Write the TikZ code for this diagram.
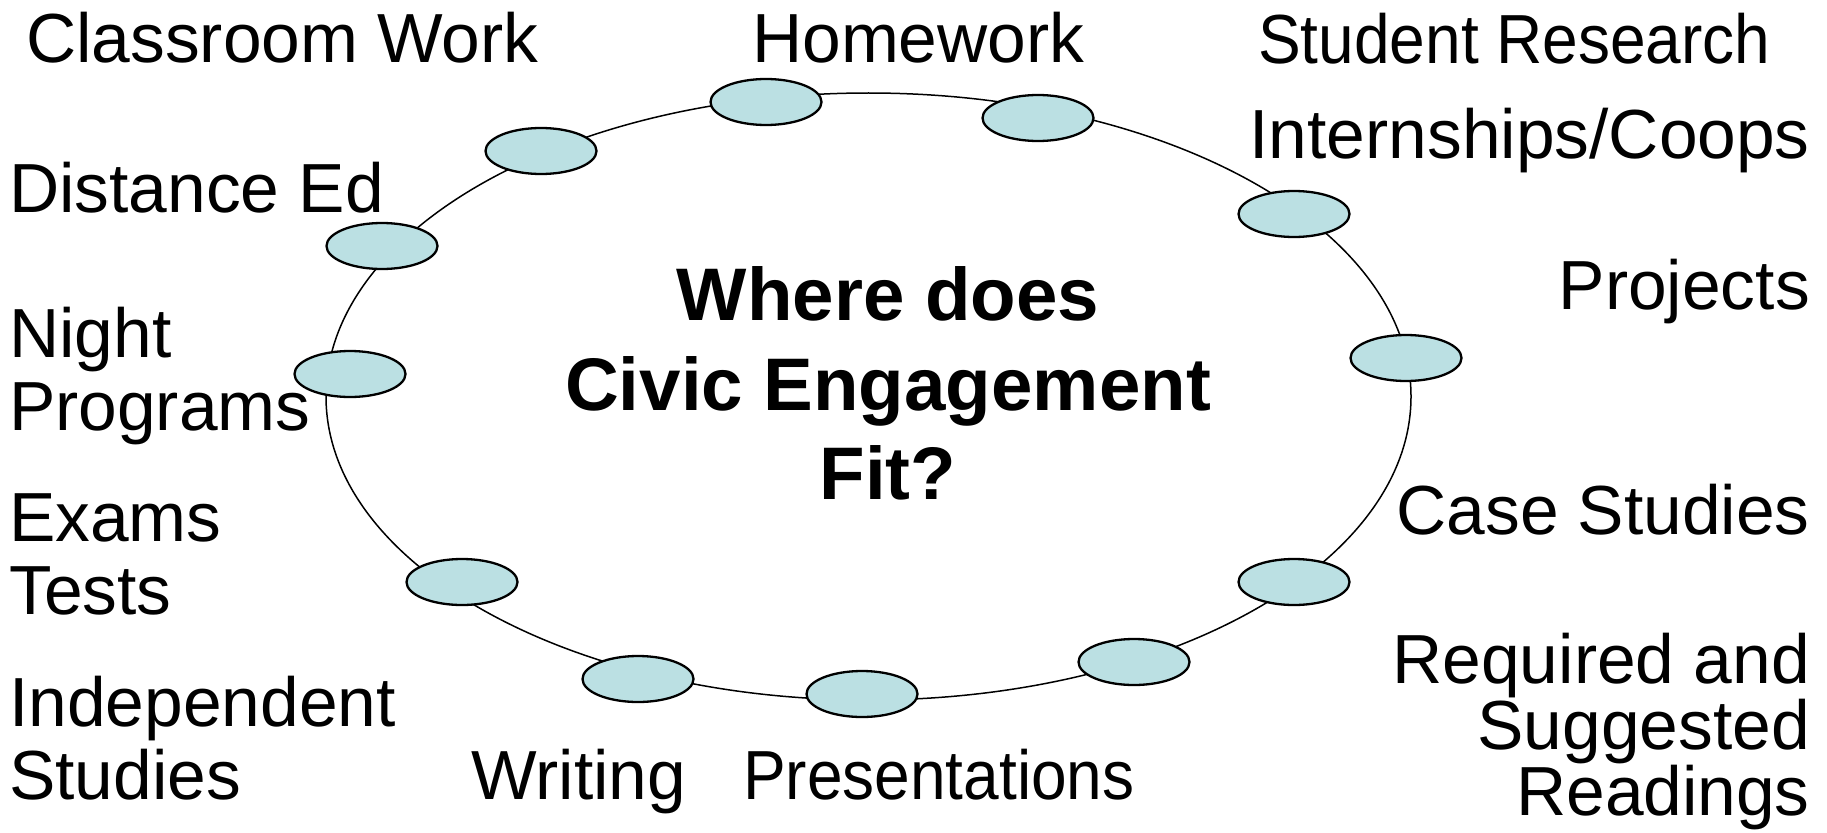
\documentclass[tikz,border=0pt]{standalone}
\usepackage{fontspec}
\setmainfont{Liberation Sans}
\newfontfamily\narrowsans[FakeStretch=0.921]{Liberation Sans}
\usetikzlibrary{shapes.geometric}
\definecolor{dotfill}{RGB}{187,224,227}
\tikzset{
  ring/.style={draw=black, line width=1.5pt, ellipse, inner sep=0pt, minimum width=1085pt, minimum height=607pt},
  dot/.style={draw=black, line width=2.3pt, fill=dotfill, ellipse, inner sep=0pt, minimum width=111pt, minimum height=46pt},
  lbl/.style={inner sep=0pt, font=\fontsize{69.5}{69.5}\selectfont},
  lblnarrow/.style={inner sep=0pt, font=\fontsize{69.5}{69.5}\narrowsans},
  lw/.style={lbl, anchor=base west},
  le/.style={lbl, anchor=base east},
  lwn/.style={lblnarrow, anchor=base west},
  title/.style={inner sep=0pt, anchor=base, font=\fontsize{74.5}{74.5}\selectfont\bfseries}
}
\begin{document}
\begin{tikzpicture}[x=1pt,y=-1pt]
\useasboundingbox (0,0) rectangle (1827,832);
\fill[white] (0,0) rectangle (1827,832);
\node[ring] (ring) at (868.5,396.5) {};
% small ellipses on the ring
\node[dot] (d1) at (766,102) {};
\node[dot] (d2) at (1038,118) {};
\node[dot] (d3) at (541,151) {};
\node[dot] (d4) at (1294,214) {};
\node[dot] (d5) at (382,246) {};
\node[dot] (d6) at (350,374) {};
\node[dot] (d7) at (1406,358) {};
\node[dot] (d8) at (462,582) {};
\node[dot] (d9) at (1294,582) {};
\node[dot] (d10) at (638,679) {};
\node[dot] (d11) at (1134,662) {};
\node[dot] (d12) at (862,694) {};
% centre text
\node[title] (t1) at (888,320) {Where does};
\node[title] (t2) at (888,410) {Civic Engagement};
\node[title] (t3) at (888,499) {Fit?};
% labels
\node[lw] (classroom) at (26,63) {Classroom Work};
\node[lw] (homework) at (752,63) {Homework};
\node[lwn] (research) at (1258,64) {Student Research};
\node[le] (intern) at (1810,158) {Internships/Coops};
\node[lw] (distance) at (9,212) {Distance Ed};
\node[le] (projects) at (1810,309) {Projects};
\node[lw] (night) at (9,357) {Night};
\node[lw] (programs) at (9,430) {Programs};
\node[lw] (exams) at (9,541) {Exams};
\node[lw] (tests) at (9,614) {Tests};
\node[le] (cases) at (1810,534) {Case Studies};
\node[le] (req) at (1810,683) {Required and};
\node[le] (sugg) at (1810,749) {Suggested};
\node[le] (read) at (1810,815) {Readings};
\node[lw] (indep) at (9,726) {Independent};
\node[lw] (studies) at (9,799) {Studies};
\node[lw] (writing) at (471,799) {Writing};
\node[lwn] (present) at (743,799) {Presentations};
\end{tikzpicture}
\end{document}
